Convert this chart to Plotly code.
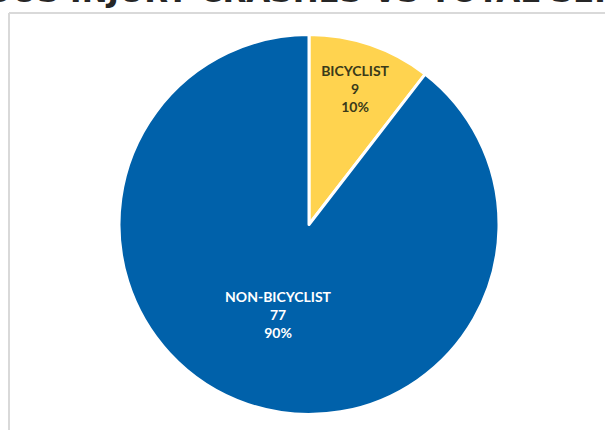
import plotly.graph_objects as go

labels = ["BICYCLIST", "NON-BICYCLIST"]
values = [9, 77]
colors = ["#FFD34F", "#0061AA"]
text_colors = ["#3a3a1a", "#FFFFFF"]
title = "BICYCLIST SERIOUS INJURY CRASHES VS TOTAL SERIOUS INJURY CRASHES"

W, H = 605, 430
cx, cy, R = 309, 224.5, 190

fig = go.Figure(go.Pie(
    labels=labels,
    values=values,
    sort=False,
    direction="clockwise",
    rotation=0,
    marker=dict(colors=colors, line=dict(color="white", width=3)),
    texttemplate="<b>%{label}<br>%{value}<br>%{percent:.0%}</b>",
    textposition="inside",
    insidetextorientation="horizontal",
    textfont=dict(family="Lato", size=14, color=text_colors),
    hoverinfo="skip",
    showlegend=False,
    domain=dict(x=[(cx - R) / W, (cx + R) / W], y=[(H - cy - R) / H, (H - cy + R) / H]),
))

# chart-area border (only left and top edges are visible in the crop)
fig.add_shape(type="line", xref="paper", yref="paper",
              x0=9 / W, x1=9 / W, y0=0, y1=(H - 13) / H,
              line=dict(color="#D9D9D9", width=2), layer="below")
fig.add_shape(type="line", xref="paper", yref="paper",
              x0=9 / W, x1=1, y0=(H - 13) / H, y1=(H - 13) / H,
              line=dict(color="#D9D9D9", width=2), layer="below")

fig.add_annotation(text="<b>" + title + "</b>", xref="paper", yref="paper",
                   x=-283 / W, y=(H - 11) / H, xanchor="left", yanchor="bottom",
                   showarrow=False,
                   font=dict(family="DejaVu Sans", size=31, color="#262626"))

fig.update_layout(width=W, height=H, margin=dict(l=0, r=0, t=0, b=0),
                  paper_bgcolor="white", plot_bgcolor="white")

fig.write_html("out.html", config={"displayModeBar": False},
               post_script="document.body.style.margin='0px';document.body.style.overflow='hidden';")
